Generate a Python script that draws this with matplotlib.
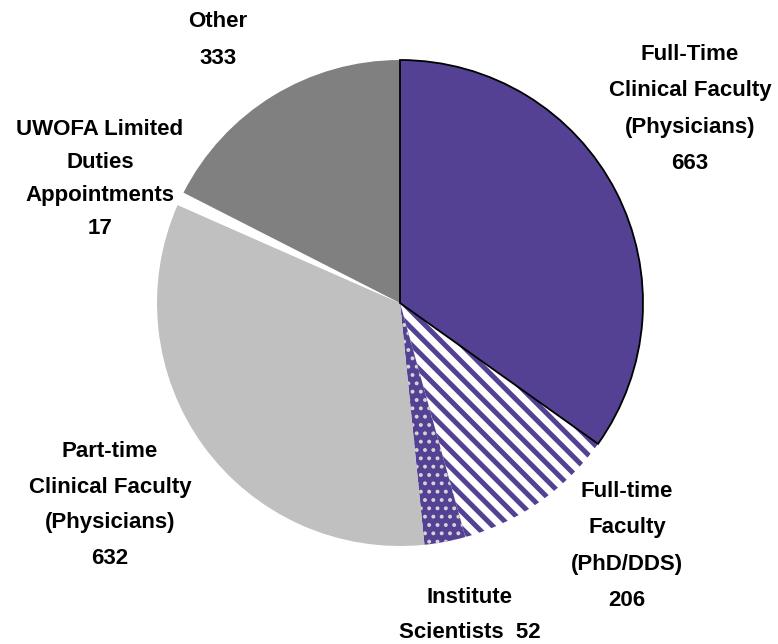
import matplotlib.pyplot as plt

W, H = 778, 644

labels = [
    "Full-Time\nClinical Faculty\n(Physicians)\n663",
    "Full-time\nFaculty\n(PhD/DDS)\n206",
    "Institute\nScientists  52",
    "Part-time\nClinical Faculty\n(Physicians)\n632",
    "UWOFA Limited\nDuties\nAppointments\n17",
    "Other\n333",
]
counts = [663, 206, 52, 632, 17, 333]

purple = "#554193"
faces = [purple, "white", purple, "#c0c0c0", "white", "#808080"]
hatches = [None, "\\\\", "..", None, None, None]
hatch_cols = ["black", purple, "#d4d4d4", "none", "none", "none"]

# label anchor points in pixels (x, y from top) and line spacing
label_xy = [(690, 109), (627, 546), (470, 615), (110, 505), (100, 179), (218, 40)]
label_ls = [1.95, 1.95, 1.9, 1.9, 1.75, 1.95]

plt.rcParams["hatch.linewidth"] = 3.6

fig = plt.figure(figsize=(W / 100, H / 100), dpi=100)
ax = fig.add_axes([0, 0, 1, 1])

wedges, _ = ax.pie(counts, center=(400, H - 303), radius=243, startangle=90,
                   counterclock=False, colors=faces, frame=True)
ax.set_xlim(0, W)
ax.set_ylim(0, H)
ax.set_aspect("equal")
ax.axis("off")

for i, w in enumerate(wedges):
    w.set_edgecolor(hatch_cols[i])
    w.set_linewidth(0)
    if hatches[i]:
        w.set_hatch(hatches[i])
        if hasattr(w, "set_hatch_linewidth"):
            w.set_hatch_linewidth(3.6 if i == 1 else 1.6)

wedges[0].set_linewidth(1.3)
wedges[0].set_zorder(5)

for (x, y), lab, ls in zip(label_xy, labels, label_ls):
    ax.text(x, H - y, lab, ha="center", va="center", fontsize=16,
            fontweight="bold", linespacing=ls,
            family=["Liberation Sans", "DejaVu Sans"])

fig.savefig("out.png", dpi=100)
